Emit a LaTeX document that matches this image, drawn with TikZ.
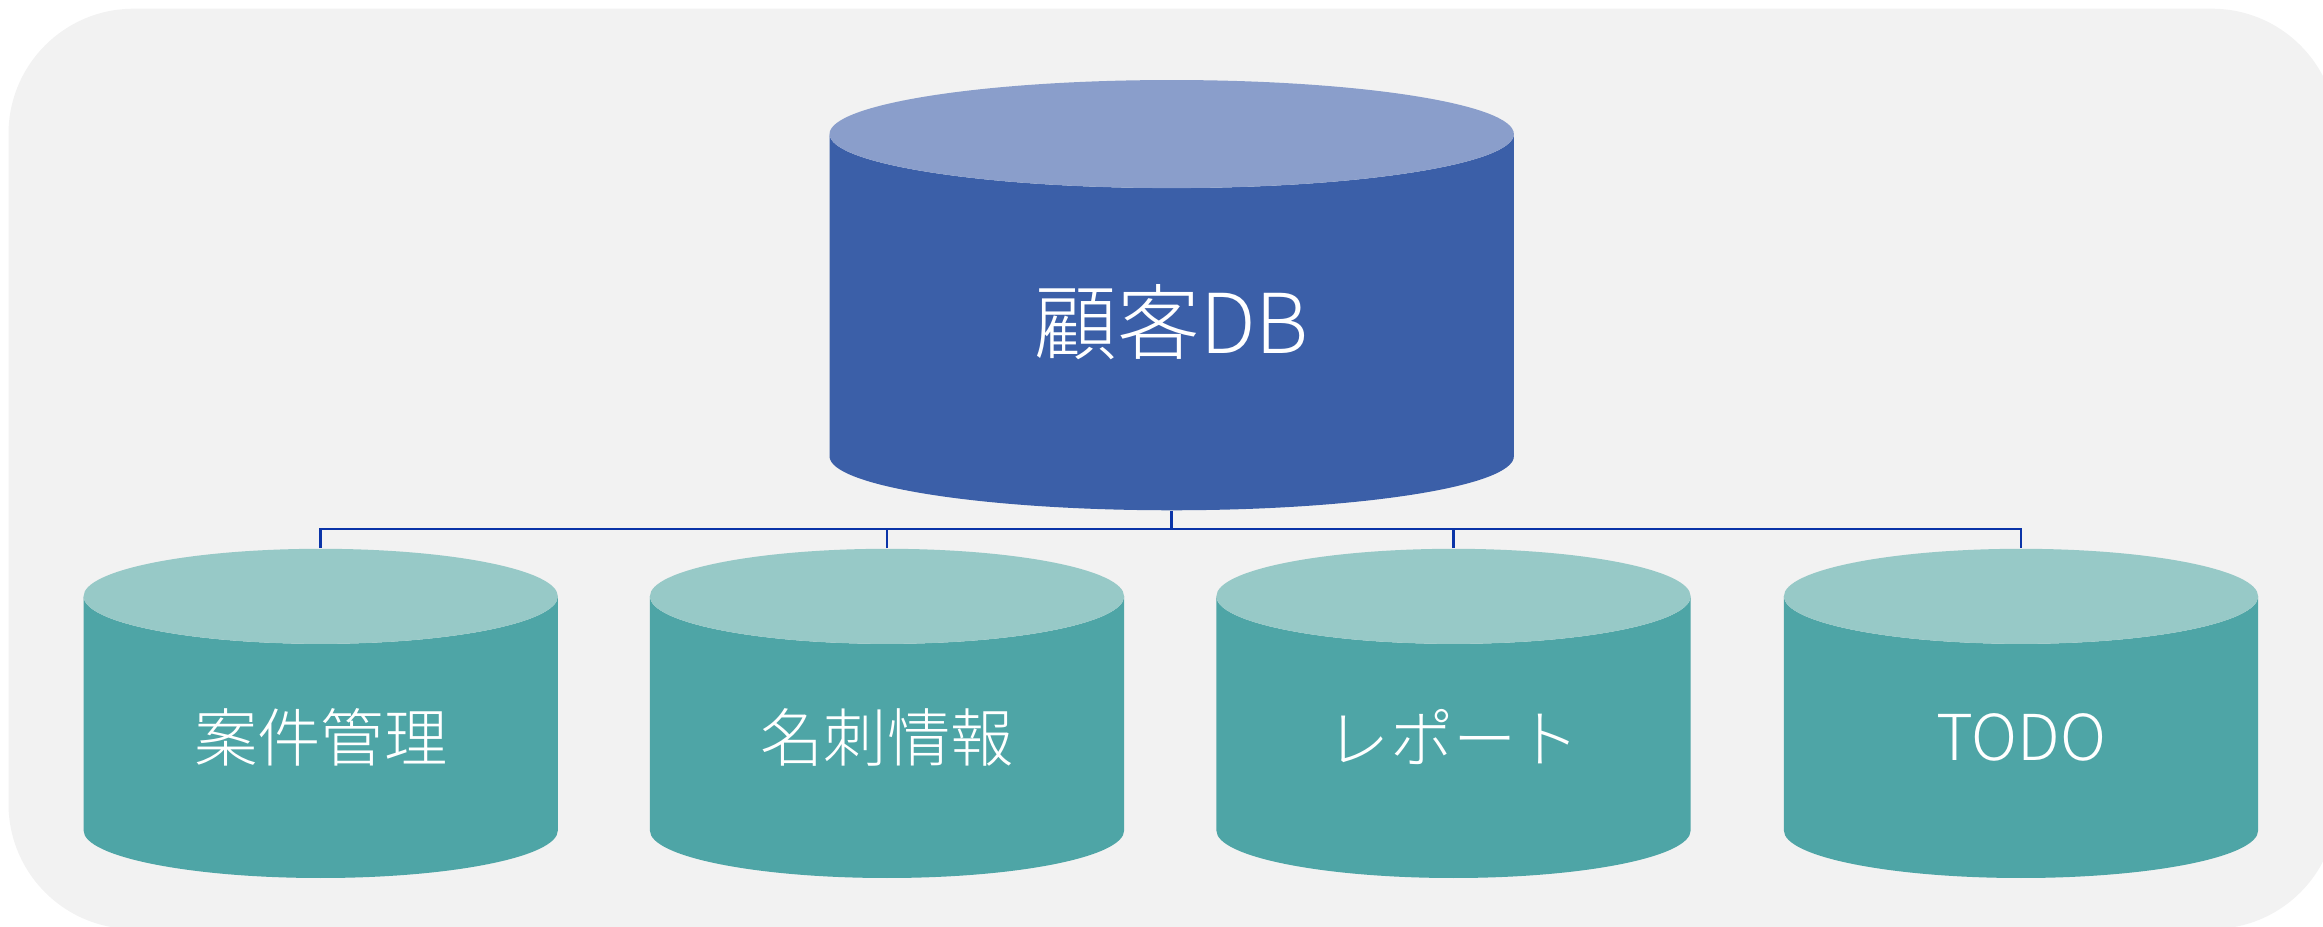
\documentclass[tikz,border=0pt]{standalone}
\usepackage{fontspec}
\setmainfont{Noto Sans CJK JP Light}
\usetikzlibrary{shapes.geometric}
\definecolor{panelgray}{HTML}{F2F2F2}
\definecolor{dbblue}{HTML}{3B5FA8}
\definecolor{dbbluetop}{HTML}{8A9ECB}
\definecolor{dbteal}{HTML}{4EA5A6}
\definecolor{dbtealtop}{HTML}{97C9C7}
\definecolor{linkblue}{HTML}{0A34A8}
\tikzset{
  mainDb/.style={cylinder,shape border rotate=90,draw=none,inner sep=0pt,aspect=0.36,
    text width=3cm,align=center,
    minimum width=6.84cm,minimum height=4.30cm,cylinder uses custom fill,
    cylinder body fill=dbblue,cylinder end fill=dbbluetop,text=white,font=\fontsize{23.5}{25}\selectfont},
  subDb/.style={cylinder,shape border rotate=90,draw=none,inner sep=0pt,aspect=0.3393,
    text width=2.8cm,align=center,
    minimum width=4.74cm,minimum height=3.29cm,cylinder uses custom fill,
    cylinder body fill=dbteal,cylinder end fill=dbtealtop,text=white,font=\fontsize{18}{20}\selectfont},
  link/.style={draw=linkblue,line width=0.8pt}
}
\begin{document}
\begin{tikzpicture}[x=0.01cm,y=-0.01cm]
    \useasboundingbox (0,0) rectangle (2323,926);
    \clip (0,0) rectangle (2323,926);
    \fill[panelgray,rounded corners=1.25cm] (8.5,8.7) rectangle (2337,929);
    \node[mainDb] (crm) at (1171.7,322.5) {\raisebox{0.08cm}{顧客DB}};
    \node[subDb] (deals) at (320.7,737.5) {案件管理};
    \node[subDb] (cards) at (887,737.5) {名刺情報};
    \node[subDb] (reports) at (1453.5,737.5) {レポート};
    \node[subDb] (todo) at (2021,737.5) {TODO};
    \coordinate (bus) at (1171.7,529);
    \draw[link] (crm.south) -- (bus);
    \draw[link] (deals.north) |- (bus) -| (todo.north);
    \draw[link] (cards.north) -- (cards.north |- bus);
    \draw[link] (reports.north) -- (reports.north |- bus);
  \end{tikzpicture}
\end{document}
